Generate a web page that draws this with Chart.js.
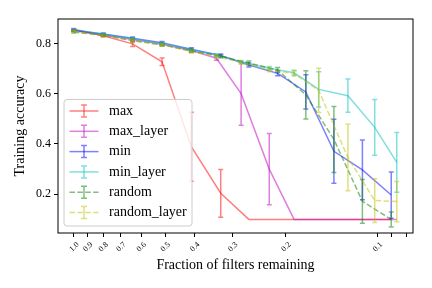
<!DOCTYPE html>
<html>
<head>
<meta charset="utf-8">
<title>Training accuracy vs filters remaining</title>
<script src="https://cdn.jsdelivr.net/npm/chart.js"></script>
<style>
body { margin: 0; background: #fff; }
#wrap { width: 432px; height: 288px; }
</style>
</head>
<body>
<div id="wrap"><canvas id="chart" width="432" height="288"></canvas></div>
<script>

// -------- DATA --------
// fraction of filters remaining (global pruning / layer-wise pruning)
const FRAC = [1.0, 0.8, 0.64, 0.512, 0.41, 0.328, 0.265, 0.213, 0.172, 0.139, 0.112, 0.09];
const FRAC_LAYER = [1.0, 0.8, 0.64, 0.512, 0.41, 0.339, 0.281, 0.227, 0.188, 0.156, 0.125, 0.102, 0.0863];

const MAX_ACC = [0.855, 0.830, 0.798, 0.727, 0.389, 0.204, 0.1, 0.1, 0.1, 0.1, 0.1, 0.1];
const MAX_ERR = [0.004, 0.005, 0.01, 0.015, 0.137, 0.095, 0, 0, 0, 0, 0, 0];

const MAX_LAYER_ACC = [0.85, 0.833, 0.815, 0.797, 0.772, 0.741, 0.6, 0.30, 0.1, 0.1, 0.1, 0.1, 0.1];
const MAX_LAYER_ERR = [0.003, 0.004, 0.005, 0.005, 0.006, 0.008, 0.126, 0.142, 0, 0, 0, 0, 0];

const MIN_ACC = [0.852, 0.837, 0.820, 0.803, 0.777, 0.752, 0.714, 0.681, 0.607, 0.371, 0.297, 0.197];
const MIN_ERR = [0.004, 0.004, 0.005, 0.005, 0.006, 0.006, 0.008, 0.01, 0.068, 0.127, 0.119, 0.092];

const MIN_LAYER_ACC = [0.855, 0.836, 0.818, 0.80, 0.776, 0.753, 0.726, 0.701, 0.683, 0.617, 0.592, 0.466, 0.327];
const MIN_LAYER_ERR = [0.003, 0.004, 0.004, 0.005, 0.005, 0.006, 0.006, 0.007, 0.01, 0.07, 0.066, 0.111, 0.119];

const RANDOM_ACC = [0.845, 0.832, 0.811, 0.794, 0.770, 0.749, 0.722, 0.694, 0.595, 0.418, 0.172, 0.10];
const RANDOM_ERR = [0.004, 0.004, 0.005, 0.005, 0.006, 0.006, 0.008, 0.01, 0.096, 0.131, 0.087, 0.03];

const RANDOM_LAYER_ACC = [0.848, 0.832, 0.812, 0.795, 0.768, 0.748, 0.724, 0.695, 0.68, 0.613, 0.346, 0.175, 0.171];
const RANDOM_LAYER_ERR = [0.003, 0.004, 0.005, 0.005, 0.006, 0.006, 0.007, 0.008, 0.01, 0.088, 0.132, 0.087, 0.08];

const X_TICKS = [1.0, 0.9, 0.8, 0.7, 0.6, 0.5, 0.4, 0.3, 0.2, 0.1, 0.09, 0.08];
const X_TICK_LABELS = ['1.0', '0.9', '0.8', '0.7', '0.6', '0.5', '0.4', '0.3', '0.2', '0.1', '', ''];
const Y_TICKS = [0.2, 0.4, 0.6, 0.8];

const SERIF = "'Liberation Serif', 'DejaVu Serif', serif";

function pts(xs, ys) {
    return ys.map((y, i) => ({ x: xs[i], y: y }));
}

function series(label, xs, ys, errs, color, dashed) {
    return {
        label: label,
        data: pts(xs, ys),
        err: errs,
        borderColor: color,
        backgroundColor: color,
        borderWidth: 1.5,
        borderDash: dashed ? [5.5, 2.4] : [],
        pointRadius: 0,
        tension: 0,
        fill: false
    };
}

const datasets = [
    series('max', FRAC, MAX_ACC, MAX_ERR, 'rgba(255,0,0,0.5)', false),
    series('max_layer', FRAC_LAYER, MAX_LAYER_ACC, MAX_LAYER_ERR, 'rgba(191,0,191,0.5)', false),
    series('min', FRAC, MIN_ACC, MIN_ERR, 'rgba(0,0,255,0.5)', false),
    series('min_layer', FRAC_LAYER, MIN_LAYER_ACC, MIN_LAYER_ERR, 'rgba(0,191,191,0.5)', false),
    series('random', FRAC, RANDOM_ACC, RANDOM_ERR, 'rgba(0,128,0,0.5)', true),
    series('random_layer', FRAC_LAYER, RANDOM_LAYER_ACC, RANDOM_LAYER_ERR, 'rgba(191,191,0,0.5)', true)
];
// matplotlib draws later series on top
datasets.forEach((d, i) => { d.order = datasets.length - i; });

// -------- ERROR BARS (drawn right after each line) --------
const errorBars = {
    id: 'errorBars',
    afterDatasetDraw(chart, args) {
        const ds = chart.data.datasets[args.index];
        if (!ds.err) return;
        const ctx = chart.ctx;
        const xs = chart.scales.x, ys = chart.scales.y;
        ctx.save();
        ctx.strokeStyle = ds.borderColor;
        ctx.lineWidth = 1.5;
        ctx.setLineDash([]);
        ds.data.forEach((p, j) => {
            const e = ds.err[j];
            if (!e) return;
            const px = xs.getPixelForValue(p.x);
            const top = ys.getPixelForValue(p.y + e);
            const bot = ys.getPixelForValue(p.y - e);
            ctx.beginPath();
            ctx.moveTo(px, top); ctx.lineTo(px, bot);
            ctx.moveTo(px - 2.5, top); ctx.lineTo(px + 2.5, top);
            ctx.moveTo(px - 2.5, bot); ctx.lineTo(px + 2.5, bot);
            ctx.stroke();
        });
        ctx.restore();
    }
};

// -------- FRAME + LEGEND --------
const frameAndLegend = {
    id: 'frameAndLegend',
    afterDraw(chart) {
        const ctx = chart.ctx;
        const a = chart.chartArea;
        ctx.save();
        ctx.strokeStyle = '#000';
        ctx.lineWidth = 1;
        ctx.strokeRect(a.left, a.top, a.right - a.left, a.bottom - a.top);

        // legend box, lower left inside the axes
        const bx = 64, by = 99.5, bw = 128, bh = 126.5, r = 3;
        ctx.beginPath();
        ctx.moveTo(bx + r, by);
        ctx.arcTo(bx + bw, by, bx + bw, by + bh, r);
        ctx.arcTo(bx + bw, by + bh, bx, by + bh, r);
        ctx.arcTo(bx, by + bh, bx, by, r);
        ctx.arcTo(bx, by, bx + bw, by, r);
        ctx.closePath();
        ctx.fillStyle = 'rgba(255,255,255,0.8)';
        ctx.fill();
        ctx.strokeStyle = '#cccccc';
        ctx.stroke();

        ctx.font = '14px ' + SERIF;
        ctx.textBaseline = 'middle';
        ctx.textAlign = 'left';
        chart.data.datasets.forEach((ds, k) => {
            const yy = 111 + k * 20.3;
            ctx.strokeStyle = ds.borderColor;
            ctx.lineWidth = 1.5;
            ctx.setLineDash(ds.borderDash);
            ctx.beginPath();
            ctx.moveTo(69.5, yy); ctx.lineTo(98.5, yy);
            ctx.stroke();
            ctx.setLineDash([]);
            ctx.beginPath();
            ctx.moveTo(84, yy - 6); ctx.lineTo(84, yy + 6);
            ctx.moveTo(81, yy - 6); ctx.lineTo(87, yy - 6);
            ctx.moveTo(81, yy + 6); ctx.lineTo(87, yy + 6);
            ctx.stroke();
            ctx.fillStyle = '#000';
            ctx.fillText(ds.label, 109, yy);
        });
        ctx.restore();
    }
};

new Chart(document.getElementById('chart'), {
    type: 'line',
    data: { datasets: datasets },
    plugins: [errorBars, frameAndLegend],
    options: {
        responsive: false,
        animation: false,
        devicePixelRatio: 1,
        layout: { padding: { left: 8, right: 19, top: 19, bottom: 10 } },
        plugins: {
            legend: { display: false },
            tooltip: { enabled: false }
        },
        scales: {
            x: {
                type: 'logarithmic',
                reverse: true,
                min: 0.0763,
                max: 1.127,
                afterBuildTicks: s => { s.ticks = X_TICKS.map(v => ({ value: v })); },
                afterFit: s => { s.height = 45; },
                border: { display: false },
                grid: { drawOnChartArea: false, drawTicks: true, tickLength: 4, color: '#000' },
                ticks: {
                    autoSkip: false,
                    minRotation: 45,
                    maxRotation: 45,
                    padding: 3,
                    labelOffset: 4,
                    color: '#000',
                    font: { family: SERIF, size: 8 },
                    callback: v => X_TICK_LABELS[X_TICKS.indexOf(v)] || ''
                },
                title: {
                    display: true,
                    text: 'Fraction of filters remaining',
                    color: '#000',
                    font: { family: SERIF, size: 14 }
                }
            },
            y: {
                min: 0.046,
                max: 0.897,
                afterBuildTicks: s => { s.ticks = Y_TICKS.map(v => ({ value: v })); },
                afterFit: s => { s.width = 50; },
                border: { display: false },
                grid: { drawOnChartArea: false, drawTicks: true, tickLength: 4, color: '#000' },
                ticks: {
                    padding: 3,
                    color: '#000',
                    font: { family: SERIF, size: 12 },
                    callback: v => v.toFixed(1)
                },
                title: {
                    display: true,
                    text: 'Training accuracy',
                    color: '#000',
                    font: { family: SERIF, size: 14 }
                }
            }
        }
    }
});

</script>
</body>
</html>
